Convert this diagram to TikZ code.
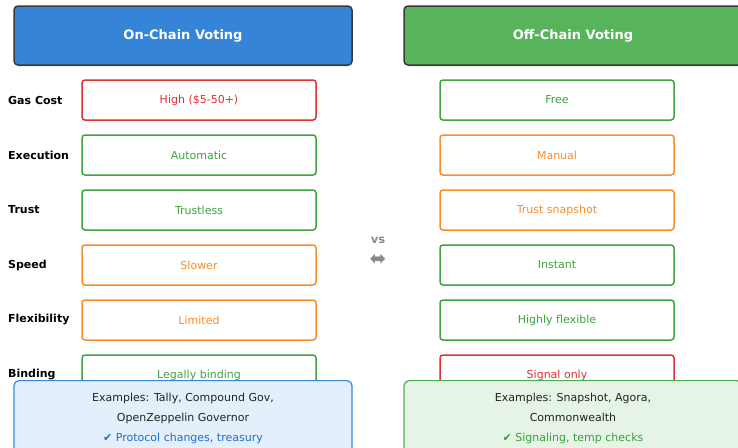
\documentclass[tikz,border=0pt]{standalone}
\usepackage{fontspec}
\setmainfont{DejaVu Sans}
\usetikzlibrary{shadows}
\definecolor{hdrblue}{HTML}{3584D8}
\definecolor{hdrgreen}{HTML}{57B45A}
\definecolor{hdrborder}{HTML}{3A3A3A}
\definecolor{cred}{HTML}{DC3232}
\definecolor{cgreen}{HTML}{3FA33F}
\definecolor{corange}{HTML}{FB8C2A}
\definecolor{vsgray}{HTML}{8A8A8A}
\definecolor{boxblue}{HTML}{E3F0FC}
\definecolor{boxblueborder}{HTML}{3A88D9}
\definecolor{boxgreen}{HTML}{E6F4E7}
\definecolor{boxgreenborder}{HTML}{4CAF50}
\definecolor{txtdark}{HTML}{222222}
\definecolor{chkblue}{HTML}{1F6FC8}
\definecolor{chkgreen}{HTML}{3C9E3C}
\begin{document}
\begin{tikzpicture}[x=1pt,y=-1pt,
  header/.style={draw=hdrborder, line width=1.5pt, rounded corners=4pt,
    minimum width=338pt, minimum height=59pt, text=white,
    font=\bfseries\fontsize{13}{15}\selectfont,
    drop shadow={shadow xshift=1pt, shadow yshift=-1.5pt, fill=black!20}},
  cell/.style={draw=#1, line width=1.5pt, rounded corners=3pt, fill=white,
    minimum width=234pt, minimum height=40pt, text=#1,
    font=\fontsize{11}{13}\selectfont},
  rowlabel/.style={anchor=west, inner sep=0pt, font=\bfseries\fontsize{11}{13}\selectfont, text=black},
  exbox/.style={draw=#1, line width=1.2pt, rounded corners=5pt,
    minimum width=338pt, minimum height=76pt, anchor=north, align=center,
    font=\fontsize{11}{20}\selectfont, text=txtdark},
]
\useasboundingbox (0,0) rectangle (738,447);
\clip (0,0) rectangle (738,447);

\node[header, fill=hdrblue] (hl) at (183,35.5) {On-Chain Voting};
\node[header, fill=hdrgreen] (hr) at (573,35.5) {Off-Chain Voting};

% row labels
\node[rowlabel] (l1) at (8,100) {Gas Cost};
\node[rowlabel] (l2) at (8,155) {Execution};
\node[rowlabel] (l3) at (8,210) {Trust};
\node[rowlabel] (l4) at (8,265) {Speed};
\node[rowlabel] (l5) at (8,320) {Flexibility};
\node[rowlabel] (l6) at (8,375) {Binding};

% left cells
\node[cell=cred] (a1) at (199,100) {High (\$5-50+)};
\node[cell=cgreen] (a2) at (199,155) {Automatic};
\node[cell=cgreen] (a3) at (199,210) {Trustless};
\node[cell=corange] (a4) at (199,265) {Slower};
\node[cell=corange] (a5) at (199,320) {Limited};
\node[cell=cgreen] (a6) at (199,375) {Legally binding};

% right cells
\node[cell=cgreen] (b1) at (557,100) {Free};
\node[cell=corange] (b2) at (557,155) {Manual};
\node[cell=corange] (b3) at (557,210) {Trust snapshot};
\node[cell=cgreen] (b4) at (557,265) {Instant};
\node[cell=cgreen] (b5) at (557,320) {Highly flexible};
\node[cell=cred] (b6) at (557,375) {Signal only};

% vs
\node[text=vsgray, font=\bfseries\fontsize{11.5}{13}\selectfont] (vs) at (378,240) {vs};
\node[text=vsgray, inner sep=0pt, font=\fontsize{20}{22}\selectfont] (arr) at (378,260) {⬌};

% example boxes
\node[exbox=boxblueborder, fill=boxblue] (el) at (183,380)
  {Examples: Tally, Compound Gov,\\OpenZeppelin Governor\\\textcolor{chkblue}{✔ Protocol changes, treasury}};
\node[exbox=boxgreenborder, fill=boxgreen] (er) at (573,380)
  {Examples: Snapshot, Agora,\\Commonwealth\\\textcolor{chkgreen}{✔ Signaling, temp checks}};
\end{tikzpicture}
\end{document}
